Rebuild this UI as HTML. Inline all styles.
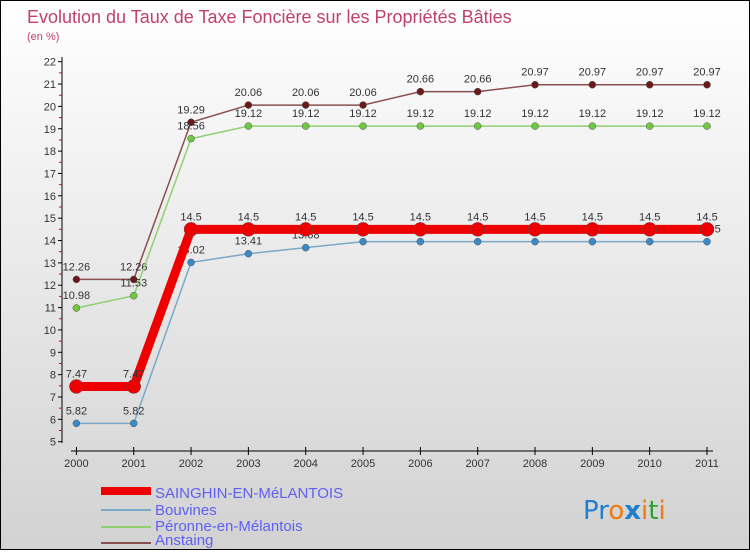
<!DOCTYPE html>
<html><head><meta charset="utf-8"><style>
body{margin:0;width:750px;height:550px;overflow:hidden;font-family:"Liberation Sans",sans-serif}
#wrap{position:relative;width:748px;height:548px;border:1px solid #000;background:linear-gradient(#fff,#d2d2d2)}
</style></head><body>
<div id="wrap">
<svg id="chart" width="748" height="548">
<text x="26" y="22" font-size="18" fill="#c04070">Evolution du Taux de Taxe Foncière sur les Propriétés Bâties</text>
<text x="26" y="39" font-size="11" fill="#c04070">(en %)</text>
<g id="axes"></g><g id="series"></g>
<g font-size="15" fill="#6060f0">
<rect x="100" y="486" width="50" height="8" fill="#e00"/>
<text x="154" y="497">SAINGHIN-EN-MéLANTOIS</text>
<rect x="100" y="508" width="50" height="2" fill="#7aa8c8"/>
<text x="154" y="514">Bouvines</text>
<rect x="100" y="525" width="50" height="2" fill="#90d070"/>
<text x="154" y="530">Péronne-en-Mélantois</text>
<rect x="100" y="541" width="50" height="2" fill="#8a5050"/>
<text x="154" y="544">Anstaing</text>
</g>
<text x="582" y="518" font-size="26" font-family="DejaVu Sans"><tspan fill="#1e7fd0">Pr</tspan><tspan fill="#f07a10">o</tspan><tspan fill="#1e7fd0" font-weight="bold">x</tspan><tspan fill="#f07a10">i</tspan><tspan fill="#30a030">t</tspan><tspan fill="#f07a10">i</tspan></text>
</svg></div>
<script>
const years=["2000","2001","2002","2003","2004","2005","2006","2007","2008","2009","2010","2011"];
const yTicks=[5,6,7,8,9,10,11,12,13,14,15,16,17,18,19,20,21,22];
const sainghin=[7.47,7.47,14.5,14.5,14.5,14.5,14.5,14.5,14.5,14.5,14.5,14.5];
const bouvines=[5.82,5.82,13.02,13.41,13.68,13.95,13.95,13.95,13.95,13.95,13.95,13.95];
const peronne=[10.98,11.53,18.56,19.12,19.12,19.12,19.12,19.12,19.12,19.12,19.12,19.12];
const anstaing=[12.26,12.26,19.29,20.06,20.06,20.06,20.66,20.66,20.97,20.97,20.97,20.97];
const NS="http://www.w3.org/2000/svg";
const x=i=>75.4+i*(706-75.4)/11;
const y=v=>440.7-(v-5)*(440.7-60.7)/17;
function mk(t,a,p){const e=document.createElementNS(NS,t);for(const k in a)e.setAttribute(k,a[k]);p.appendChild(e);return e;}
const ax=document.getElementById('axes');
const yl=mk('line',{x1:61,y1:56,x2:61,y2:442,stroke:'#000'},ax);


yTicks.forEach(v=>{
 mk('line',{x1:57,x2:61,y1:y(v),y2:y(v),stroke:'#000'},ax);
 if(v<22)mk('line',{x1:58,x2:61,y1:y(v+0.5),y2:y(v+0.5),stroke:'#e00'},ax);
 const t=mk('text',{x:55,y:y(v)+4,'text-anchor':'end','font-size':11,fill:'#333'},ax);t.textContent=v;
 
 
});
const xl=mk('line',{x1:70,y1:450,x2:712,y2:450,stroke:'#000'},ax);


years.forEach((yr,i)=>{
 mk('line',{x1:x(i),x2:x(i),y1:446,y2:454,stroke:'#000'},ax);
 const t=mk('text',{x:x(i),y:466,'text-anchor':'middle','font-size':11,fill:'#333'},ax);t.textContent=yr;
 
 
});
const sg=document.getElementById('series');
function draw(data,color,w,r,name,fill){
 const g=mk('g',{},sg);
 
 
 const pl=mk('polyline',{points:data.map((v,i)=>x(i)+','+y(v)).join(' '),fill:'none',stroke:color,'stroke-width':w},g);
 
 
 data.forEach((v,i)=>{
  const c=mk('circle',{cx:x(i),cy:y(v),r:r,fill:fill,stroke:'#555','stroke-width':0.5},g);
  
  
  const t=mk('text',{x:x(i),y:y(v)-9,'text-anchor':'middle','font-size':11,fill:'#333'},g);t.textContent=v;
  
  
 });
}
draw(anstaing,'#8a5050',1.5,3.5,'anstaing','#6a1a1a');
draw(peronne,'#90d070',1.5,3.5,'peronne','#70c840');
draw(bouvines,'#7aa8c8',1.5,3.5,'bouvines','#3a8ac8');
draw(sainghin,'#e00',9,7,'sainghin','#e00');
</script>
</body></html>
